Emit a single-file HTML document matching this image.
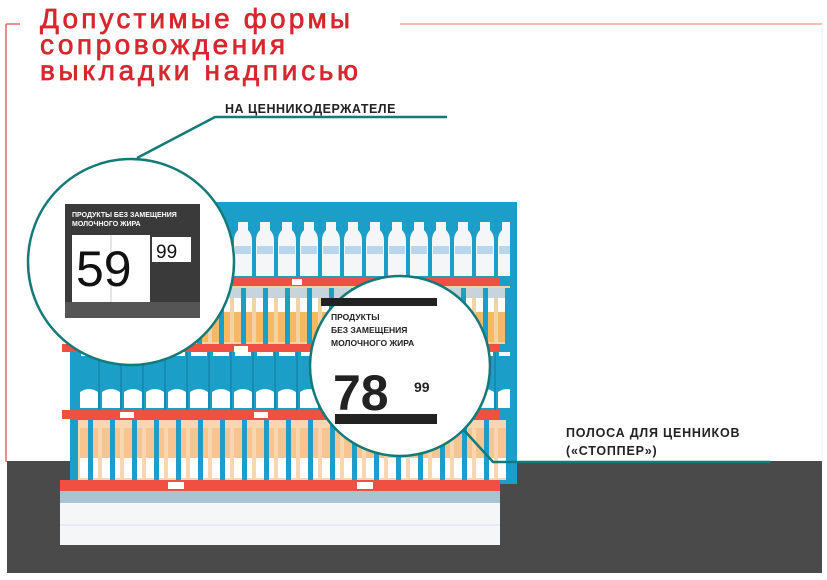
<!DOCTYPE html>
<html><head><meta charset="utf-8"><style>
html,body{margin:0;padding:0;background:#fff}
svg{display:block}
text{font-family:"Liberation Sans","DejaVu Sans",sans-serif}
</style></head><body>
<svg width="827" height="580" viewBox="0 0 827 580" xmlns="http://www.w3.org/2000/svg">
<defs>
<pattern id="r1" x="78" y="0" width="22" height="600" patternUnits="userSpaceOnUse">
 <rect x="0" y="0" width="22" height="600" fill="#1b9fc9"/>
 <path d="M6 222 h10 v8 q4 4 4 10 v36 h-18 v-36 q0-6 4-10z" fill="#f4f6f8"/>
 <rect x="3" y="246" width="16" height="8" fill="#b9d6ec"/>
</pattern>
<pattern id="r2" x="78" y="0" width="22" height="600" patternUnits="userSpaceOnUse">
 <rect x="0" y="0" width="22" height="600" fill="#f1d3a6"/>
 <rect x="0" y="288" width="22" height="10" fill="#c8d4dc"/>
 <rect x="2" y="298" width="18" height="14" fill="#fff"/>
 <rect x="2" y="312" width="18" height="30" fill="#f6b862"/>
 <rect x="9" y="288" width="5" height="56" fill="#1b9fc9"/>
</pattern>
<pattern id="r3" x="78" y="0" width="22" height="600" patternUnits="userSpaceOnUse">
 <rect x="0" y="0" width="22" height="600" fill="#1b9fc9"/>
 <rect x="3" y="352" width="16" height="4" fill="#fff"/>
 <path d="M2 392 q9 -6 18 0 v16 h-18z" fill="#fff"/>
 <rect x="20" y="352" width="2" height="58" fill="#148cb3"/>
</pattern>
<pattern id="r4" x="78" y="0" width="22" height="600" patternUnits="userSpaceOnUse">
 <rect x="0" y="0" width="22" height="600" fill="#f7d6b0"/>
 <rect x="2" y="428" width="18" height="30" fill="#f8c490"/>
 <rect x="2" y="458" width="18" height="20" fill="#fff"/>
 <rect x="10" y="420" width="5" height="60" fill="#1b9fc9"/>
</pattern>
</defs>

<line x1="6" y1="24" x2="20" y2="24" stroke="#e06a6a" stroke-width="1.5"/>
<line x1="400" y1="24" x2="822" y2="24" stroke="#f0a8a0" stroke-width="1.5"/>
<line x1="6" y1="24" x2="6" y2="462" stroke="#e06a6a" stroke-width="1.5"/>
<line x1="822" y1="26" x2="822" y2="460" stroke="#eee" stroke-width="1"/>

<g fill="#d8262e" stroke="#d8262e" stroke-width="0.7">
<text x="40" y="28" font-size="28" textLength="310">Допустимые формы</text>
<text x="40" y="54" font-size="28" textLength="245">сопровождения</text>
<text x="40" y="80" font-size="28" textLength="318">выкладки надписью</text>
</g>

<rect x="7" y="461" width="815" height="112" fill="#4a4a4a"/>

<rect x="70" y="202" width="447" height="282" fill="#1b9fc9"/>
<rect x="78" y="210" width="432" height="67" fill="url(#r1)"/>
<rect x="78" y="286" width="432" height="58" fill="url(#r2)"/>
<rect x="78" y="352" width="432" height="58" fill="url(#r3)"/>
<rect x="78" y="420" width="432" height="60" fill="url(#r4)"/>
<rect x="62" y="277" width="438" height="9" fill="#ef5043"/>
<rect x="62" y="344" width="438" height="8" fill="#ef5043"/>
<rect x="62" y="410" width="438" height="9" fill="#ef5043"/>
<rect x="60" y="480" width="440" height="11" fill="#ef5043"/>
<rect x="60" y="491" width="440" height="12" fill="#a8c4d2"/>
<rect x="60" y="503" width="440" height="42" fill="#f4f6f8"/>
<line x1="60" y1="525" x2="500" y2="525" stroke="#dde" stroke-width="1"/>
<rect x="292" y="279" width="10" height="6" fill="#fff"/>
<rect x="234" y="346" width="14" height="6" fill="#fff"/>
<rect x="120" y="412" width="14" height="6" fill="#fff"/>
<rect x="254" y="412" width="14" height="6" fill="#fff"/>
<rect x="168" y="482" width="16" height="7" fill="#fff"/>
<rect x="357" y="482" width="16" height="7" fill="#fff"/>

<polyline points="137,158 215,117 447,117" fill="none" stroke="#137a78" stroke-width="2.5"/>
<polyline points="462,428 493,462 770,462" fill="none" stroke="#137a78" stroke-width="2.5"/>

<circle cx="131" cy="262" r="103" fill="#fff" stroke="#137a78" stroke-width="2.5"/>
<rect x="65" y="204" width="135" height="114" fill="#3a3a3a"/>
<rect x="65" y="302" width="135" height="16" fill="#555"/>
<text x="72" y="217" font-size="7" fill="#fff" font-weight="bold">ПРОДУКТЫ БЕЗ ЗАМЕЩЕНИЯ</text>
<text x="72" y="226" font-size="7" fill="#fff" font-weight="bold">МОЛОЧНОГО ЖИРА</text>
<rect x="72" y="235" width="78" height="67" fill="#fff"/>
<line x1="111" y1="235" x2="111" y2="302" stroke="#ccc"/>
<text x="76" y="286" font-size="50" fill="#111">59</text>
<rect x="152" y="237" width="39" height="25" fill="#fff"/>
<text x="156" y="258" font-size="19" fill="#111">99</text>

<circle cx="400" cy="366" r="90" fill="#fff" stroke="#137a78" stroke-width="2.5"/>
<rect x="321" y="298" width="116" height="8" fill="#222"/>
<text x="331" y="320" font-size="8.5" fill="#222" font-weight="bold">ПРОДУКТЫ</text>
<text x="331" y="333" font-size="8.5" fill="#222" font-weight="bold">БЕЗ ЗАМЕЩЕНИЯ</text>
<text x="331" y="346" font-size="8.5" fill="#222" font-weight="bold">МОЛОЧНОГО ЖИРА</text>
<text x="333" y="410" font-size="50" fill="#222" font-weight="bold">78</text>
<text x="414" y="392" font-size="14" fill="#222" font-weight="bold">99</text>
<rect x="335" y="414" width="102" height="10" fill="#222"/>

<text x="225" y="113" font-size="12.5" fill="#222" font-weight="bold" letter-spacing="0.5">НА ЦЕННИКОДЕРЖАТЕЛЕ</text>
<text x="566" y="437" font-size="12.5" fill="#222" font-weight="bold" letter-spacing="0.8">ПОЛОСА ДЛЯ ЦЕННИКОВ</text>
<text x="566" y="455" font-size="12.5" fill="#222" font-weight="bold" letter-spacing="0.8">(«СТОППЕР»)</text>
</svg>
</body></html>
